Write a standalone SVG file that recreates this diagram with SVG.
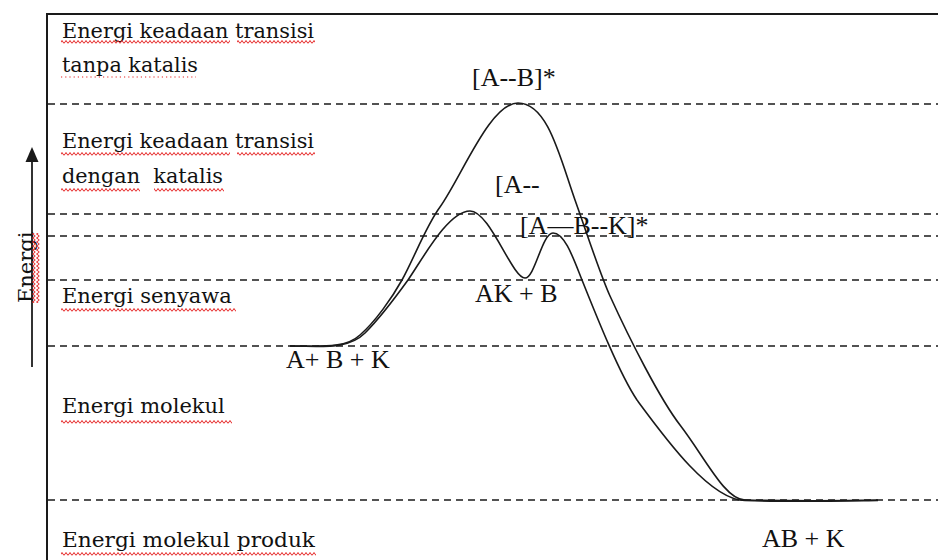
<svg xmlns="http://www.w3.org/2000/svg" width="938" height="560" viewBox="0 0 938 560">
<style>
.lbl{font-family:"DejaVu Serif","Liberation Serif",serif;font-size:21px;fill:#111}
.chem{font-family:"Liberation Serif","Times New Roman",serif;font-size:26px;fill:#111}
.dash{stroke:#1a1a1a;stroke-width:1.5;stroke-dasharray:7 5;fill:none}
.curve{stroke:#1a1a1a;stroke-width:1.6;fill:none}
.frame{stroke:#1a1a1a;stroke-width:2;fill:none}
</style>
<defs>
<pattern id="sqh" width="4" height="4" patternUnits="userSpaceOnUse"><path d="M0,3.5 L2,0.5 L4,3.5" stroke="#e52222" stroke-width="1" fill="none"/></pattern>
<pattern id="sqv" width="4" height="4" patternUnits="userSpaceOnUse"><path d="M3.5,0 L0.5,2 L3.5,4" stroke="#e52222" stroke-width="1" fill="none"/></pattern>
</defs>
<rect width="938" height="560" fill="#ffffff"/>
<g id="frame">
<line class="frame" x1="46" y1="14" x2="938" y2="14"/>
<line class="frame" x1="47" y1="13" x2="47" y2="560"/>
</g>
<g id="axis">
<line x1="32" y1="367" x2="32" y2="158" stroke="#333" stroke-width="2"/>
<polygon points="32,147 25.5,162 38.5,162" fill="#1a1a1a"/>
<text class="lbl" font-size="19.5" transform="translate(33,303) rotate(-90)">Energi</text>
<rect x="32" y="233" width="8" height="70" fill="url(#sqv)"/>
</g>
<g id="levels">
<line class="dash" x1="48" y1="104" x2="938" y2="104"/>
<line class="dash" x1="48" y1="214" x2="938" y2="214"/>
<line class="dash" x1="48" y1="236" x2="938" y2="236"/>
<line class="dash" x1="48" y1="280" x2="938" y2="280"/>
<line class="dash" x1="48" y1="346" x2="938" y2="346"/>
<line class="dash" x1="48" y1="500" x2="938" y2="500"/>
</g>
<g id="level-labels">
<text class="lbl" x="62" y="38" textLength="252" lengthAdjust="spacingAndGlyphs">Energi keadaan transisi</text>
<text class="lbl" x="62" y="72" textLength="136" lengthAdjust="spacingAndGlyphs">tanpa katalis</text>
<text class="lbl" x="62" y="148" textLength="252" lengthAdjust="spacingAndGlyphs">Energi keadaan transisi</text>
<text class="lbl" x="62" y="183" textLength="161" lengthAdjust="spacingAndGlyphs" xml:space="preserve">dengan  katalis</text>
<text class="lbl" x="62" y="303">Energi senyawa</text>
<text class="lbl" x="62" y="413">Energi molekul</text>
<text class="lbl" x="62" y="547" textLength="253" lengthAdjust="spacingAndGlyphs">Energi molekul produk</text>
</g>
<g id="spellmarks">
<rect x="61" y="40" width="169" height="4" fill="url(#sqh)"/>
<rect x="237" y="40" width="78" height="4" fill="url(#sqh)"/>
<line x1="61" y1="77" x2="196" y2="77" stroke="#e52222" stroke-width="1.2" stroke-dasharray="1.2 3"/>
<rect x="61" y="152" width="169" height="4" fill="url(#sqh)"/>
<rect x="237" y="152" width="78" height="4" fill="url(#sqh)"/>
<rect x="61" y="188" width="79" height="4" fill="url(#sqh)"/>
<rect x="154" y="188" width="70" height="4" fill="url(#sqh)"/>
<rect x="61" y="308" width="175" height="4" fill="url(#sqh)"/>
<rect x="61" y="420" width="171" height="4" fill="url(#sqh)"/>
<rect x="61" y="552" width="255" height="4" fill="url(#sqh)"/>
</g>
<g id="connectors">
<path id="uncatalyzed" class="curve" d="M290,346 C320,346 345,349 360,335 C375,322 392,298 402,280 C414,258.4 426,226 440,207 C462,176 490,103 518,103 C548,103 560,158 575,200 C587,233.6 600,274 610,296 C630,340 660,399 680,425 C705,457.5 725,500 745,500 C790,501 840,501 878,500"/>
<path id="catalyzed" class="curve" d="M290,346 C322,346 348,350 365,333 C380,318 395,298 408,280 C422,260 448,211 470,211 C490,211 512,278 525,278 C535,278 542,233 553,233 C565,233 574,260 582,280 C597,317.5 620,375 637,400 C665,438 710,500 745,500.5 C790,502 840,501 878,500.5"/>
</g>
<g id="state-labels">
<text class="chem" x="472" y="86">[A--B]*</text>
<text class="chem" x="495" y="193">[A--</text>
<text class="chem" x="520" y="234">[A—B--K]*</text>
<text class="chem" x="475" y="302">AK + B</text>
<text class="chem" x="286" y="368">A+ B + K</text>
<text class="chem" x="762" y="547">AB + K</text>
</g>
</svg>
